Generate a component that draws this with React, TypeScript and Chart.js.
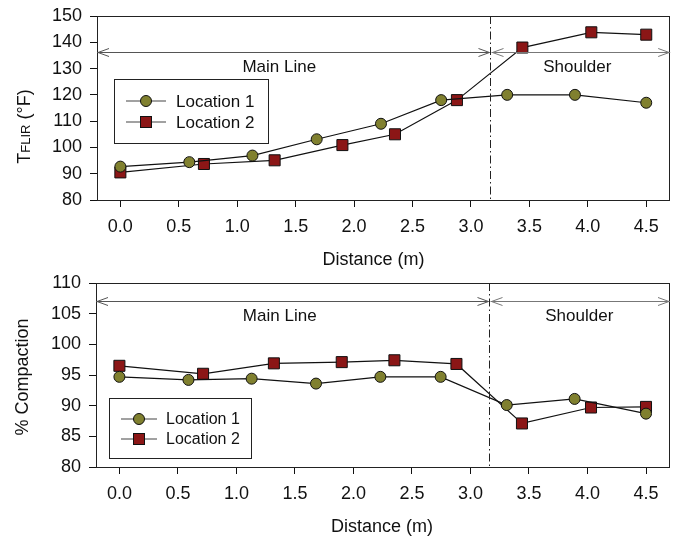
import React, { useEffect, useRef } from "react";
import { Chart, registerables } from "chart.js";
Chart.register(...registerables);

const FONT = "'Liberation Sans', Arial, Helvetica, sans-serif";
const TEXT = "#111";
const OLIVE = "#80802f";
const DARKRED = "#8b1616";

// ---- data ----
const seriesNames = ["Location 1", "Location 2"];
const xTicks = [0, 0.5, 1.0, 1.5, 2.0, 2.5, 3.0, 3.5, 4.0, 4.5];
const loc1X = [0.0, 0.59, 1.13, 1.68, 2.23, 2.745, 3.31, 3.89, 4.5];
const loc2X = [0.0, 0.715, 1.32, 1.9, 2.35, 2.88, 3.44, 4.03, 4.5];
const tempLoc1 = [92.7, 94.4, 96.9, 103.1, 109.0, 118.0, 120.0, 120.0, 117.0];
const tempLoc2 = [90.5, 93.7, 95.1, 100.9, 105.0, 118.0, 138.0, 143.8, 142.9];
const compLoc1 = [94.7, 94.2, 94.4, 93.6, 94.7, 94.7, 90.1, 91.1, 88.7];
const compLoc2 = [96.5, 95.2, 96.9, 97.1, 97.4, 96.8, 87.1, 89.7, 89.8];
const tempTicks = [80, 90, 100, 110, 120, 130, 140, 150];
const compTicks = [80, 85, 90, 95, 100, 105, 110];
const boundaryX = 3.16;
const tempArrowY = 136.2;
const compArrowY = 107.05;
const regionLabels = ["Main Line", "Shoulder"];

type Area = { left: number; right: number; top: number; bottom: number };

type Cfg = {
  top: number;
  height: number;
  area: Area;
  y1: number[];
  y2: number[];
  yMin: number;
  yMax: number;
  yTicks: number[];
  arrowY: number;
  labelDy: number;
  labelX: [number, number];
  legend: { dx: number; dy: number; w: number; h: number; fs: number; row1: number; row2: number; lineL: number; lineR: number; textX: number };
  drawYTitle: (ctx: CanvasRenderingContext2D) => void;
  xTitle: { x: number; y: number };
};

function drawArrowHead(ctx: CanvasRenderingContext2D, x: number, y: number, dir: number) {
  ctx.beginPath();
  ctx.moveTo(x + dir * 11, y - 4);
  ctx.lineTo(x, y);
  ctx.lineTo(x + dir * 11, y + 4);
  ctx.stroke();
}

function makeChart(canvas: HTMLCanvasElement, cfg: Cfg) {
  const { area, height } = cfg;
  const annot = {
    id: "annot",
    afterDatasetsDraw(chart: any) {
      const ctx: CanvasRenderingContext2D = chart.ctx;
      const xs = chart.scales.x;
      const ys = chart.scales.y;
      const ca = chart.chartArea;
      ctx.save();
      // frame
      ctx.strokeStyle = "#222";
      ctx.lineWidth = 1;
      ctx.setLineDash([]);
      ctx.strokeRect(Math.round(ca.left) + 0.5, Math.round(ca.top) + 0.5, Math.round(ca.right - ca.left) - 1, Math.round(ca.bottom - ca.top));
      // boundary
      const bx = Math.round(xs.getPixelForValue(boundaryX)) + 0.5;
      ctx.setLineDash([8, 3, 1.5, 3]);
      ctx.beginPath();
      ctx.moveTo(bx, ca.top);
      ctx.lineTo(bx, ca.bottom);
      ctx.stroke();
      ctx.setLineDash([]);
      // arrows
      const ay = Math.round(ys.getPixelForValue(cfg.arrowY)) + 0.5;
      ctx.strokeStyle = "#555";
      ctx.beginPath();
      ctx.moveTo(ca.left, ay);
      ctx.lineTo(bx - 1, ay);
      ctx.stroke();
      drawArrowHead(ctx, ca.left + 1, ay, 1);
      drawArrowHead(ctx, bx - 1, ay, -1);
      ctx.strokeStyle = "#777";
      ctx.beginPath();
      ctx.moveTo(bx + 1, ay);
      ctx.lineTo(ca.right, ay);
      ctx.stroke();
      drawArrowHead(ctx, bx + 2, ay, 1);
      drawArrowHead(ctx, ca.right - 1, ay, -1);
      // region labels
      ctx.fillStyle = TEXT;
      ctx.font = `17px ${FONT}`;
      ctx.textAlign = "center";
      ctx.textBaseline = "middle";
      ctx.fillText(regionLabels[0], xs.getPixelForValue(cfg.labelX[0]), ay + cfg.labelDy);
      ctx.fillText(regionLabels[1], xs.getPixelForValue(cfg.labelX[1]), ay + cfg.labelDy);
      // legend
      const L = cfg.legend;
      const lx = ca.left + L.dx;
      const ly = ca.top + L.dy;
      ctx.fillStyle = "#fff";
      ctx.fillRect(lx, ly, L.w, L.h);
      ctx.strokeStyle = "#222";
      ctx.strokeRect(lx + 0.5, ly + 0.5, L.w, L.h);
      const rows = [L.row1, L.row2];
      const mc = (L.lineL + L.lineR) / 2;
      rows.forEach((ry, i) => {
        ctx.strokeStyle = "#444";
        ctx.lineWidth = 1.2;
        ctx.beginPath();
        ctx.moveTo(L.lineL, ry);
        ctx.lineTo(L.lineR, ry);
        ctx.stroke();
        ctx.lineWidth = 1;
        ctx.strokeStyle = "#111";
        if (i === 0) {
          ctx.fillStyle = OLIVE;
          ctx.beginPath();
          ctx.arc(mc, ry, 5.5, 0, Math.PI * 2);
          ctx.fill();
          ctx.stroke();
        } else {
          ctx.fillStyle = DARKRED;
          ctx.fillRect(mc - 5.5, ry - 5.5, 11, 11);
          ctx.strokeRect(mc - 5.5, ry - 5.5, 11, 11);
        }
        ctx.fillStyle = TEXT;
        ctx.font = `${L.fs}px ${FONT}`;
        ctx.textAlign = "left";
        ctx.textBaseline = "middle";
        ctx.fillText(seriesNames[i], L.textX, ry + 1);
      });
      // axis titles
      ctx.fillStyle = TEXT;
      ctx.font = `18px ${FONT}`;
      ctx.textAlign = "center";
      ctx.textBaseline = "middle";
      ctx.fillText("Distance (m)", cfg.xTitle.x, cfg.xTitle.y);
      cfg.drawYTitle(ctx);
      ctx.restore();
    },
  };

  const ds = (label: string, xs: number[], ys: number[], style: string, color: string, r: number) => ({
    label,
    data: xs.map((x, i) => ({ x, y: ys[i] })),
    showLine: true,
    borderColor: "#111",
    borderWidth: 1.2,
    pointStyle: style,
    pointRadius: r,
    pointBackgroundColor: color,
    pointBorderColor: "#111",
    pointBorderWidth: 1,
  });

  return new Chart(canvas, {
    type: "scatter",
    data: {
      datasets: [
        ds(seriesNames[0], loc1X, cfg.y1, "circle", OLIVE, 5.5),
        ds(seriesNames[1], loc2X, cfg.y2, "rect", DARKRED, 7.8),
      ] as any,
    },
    options: {
      responsive: false,
      animation: false,
      devicePixelRatio: 1,
      layout: { padding: { left: 0, top: area.top, right: 679 - area.right, bottom: 0 } },
      plugins: { legend: { display: false }, tooltip: { enabled: false } },
      scales: {
        x: {
          type: "linear",
          min: -0.2,
          max: 4.705,
          afterBuildTicks: (s: any) => {
            s.ticks = xTicks.map((v) => ({ value: v }));
          },
          afterFit: (s: any) => {
            s.height = height - area.bottom;
            s.paddingLeft = 0;
            s.paddingRight = 0;
          },
          border: { display: false },
          grid: { drawOnChartArea: false, drawTicks: true, tickLength: 7, color: "#111" },
          ticks: {
            font: { family: FONT, size: 18 },
            color: TEXT,
            padding: 9,
            maxRotation: 0,
            callback: (v: any) => Number(v).toFixed(1),
          },
        },
        y: {
          type: "linear",
          min: cfg.yMin,
          max: cfg.yMax,
          afterBuildTicks: (s: any) => {
            s.ticks = cfg.yTicks.map((v) => ({ value: v }));
          },
          afterFit: (s: any) => {
            s.width = area.left;
            s.paddingTop = 0;
            s.paddingBottom = 0;
          },
          border: { display: false },
          grid: { drawOnChartArea: false, drawTicks: true, tickLength: 7, color: "#111" },
          ticks: {
            font: { family: FONT, size: 18 },
            color: TEXT,
            padding: 8,
          },
        },
      },
    } as any,
    plugins: [annot],
  });
}

function ChartPanel({ cfg }: { cfg: Cfg }) {
  const ref = useRef<HTMLCanvasElement>(null);
  useEffect(() => {
    if (!ref.current) return;
    const c = makeChart(ref.current, cfg);
    return () => c.destroy();
  }, []);
  return (
    <canvas
      ref={ref}
      width={679}
      height={cfg.height}
      style={{ position: "absolute", left: 0, top: cfg.top, width: 679, height: cfg.height, display: "block" }}
    />
  );
}

const topCfg: Cfg = {
  top: 0,
  height: 270,
  area: { left: 97, right: 671, top: 16, bottom: 200 },
  y1: tempLoc1,
  y2: tempLoc2,
  yMin: 80,
  yMax: 150,
  yTicks: tempTicks,
  arrowY: tempArrowY,
  labelDy: 15,
  labelX: [1.36, 3.91],
  legend: { dx: 17, dy: 63, w: 154, h: 64, fs: 17, row1: 101, row2: 122, lineL: 126, lineR: 166, textX: 176 },
  xTitle: { x: 373.5, y: 260 },
  drawYTitle: (ctx) => {
    ctx.save();
    ctx.translate(30, 126.5);
    ctx.rotate(-Math.PI / 2);
    ctx.textBaseline = "alphabetic";
    ctx.textAlign = "left";
    const parts: [string, number][] = [["T", 18], ["FLIR", 13], [" (°F)", 18]];
    let total = 0;
    parts.forEach(([t, s]) => {
      ctx.font = `${s}px ${FONT}`;
      total += ctx.measureText(t).width;
    });
    let x = -total / 2;
    parts.forEach(([t, s]) => {
      ctx.font = `${s}px ${FONT}`;
      ctx.fillText(t, x, 0);
      x += ctx.measureText(t).width;
    });
    ctx.restore();
  },
};

const bottomCfg: Cfg = {
  top: 270,
  height: 271,
  area: { left: 96, right: 670, top: 13, bottom: 197 },
  y1: compLoc1,
  y2: compLoc2,
  yMin: 80,
  yMax: 110,
  yTicks: compTicks,
  arrowY: compArrowY,
  labelDy: 15,
  labelX: [1.37, 3.93],
  legend: { dx: 13, dy: 115, w: 142, h: 60, fs: 16, row1: 149, row2: 169, lineL: 121, lineR: 157, textX: 166 },
  xTitle: { x: 382, y: 257 },
  drawYTitle: (ctx) => {
    ctx.save();
    ctx.translate(28, 107);
    ctx.rotate(-Math.PI / 2);
    ctx.textBaseline = "alphabetic";
    ctx.textAlign = "center";
    ctx.font = `18px ${FONT}`;
    ctx.fillText("% Compaction", 0, 0);
    ctx.restore();
  },
};

export default function App() {
  return (
    <div style={{ position: "fixed", left: 0, top: 0, width: 679, height: 541, background: "#fff" }}>
      <ChartPanel cfg={topCfg} />
      <ChartPanel cfg={bottomCfg} />
    </div>
  );
}
